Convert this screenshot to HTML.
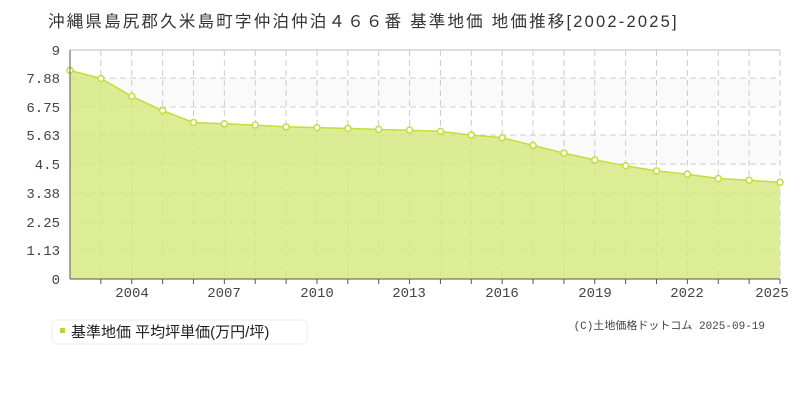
<!DOCTYPE html>
<html><head><meta charset="utf-8"><style>
body{margin:0;background:#fff;width:800px;height:400px;overflow:hidden;font-family:"Liberation Sans","Noto Sans CJK JP",sans-serif}
</style></head><body>
<svg width="800" height="400" xmlns="http://www.w3.org/2000/svg" font-family="'Liberation Mono','Noto Sans CJK JP',monospace">
<text x="48" y="27" font-size="16.5" letter-spacing="2.2" fill="#333" font-family="'Liberation Sans','Noto Sans CJK JP',sans-serif">沖縄県島尻郡久米島町字仲泊仲泊４６６番 基準地価 地価推移[2002-2025]</text>
<rect x="70" y="78" width="710" height="29" fill="#fafafa"/>
<rect x="70" y="135" width="710" height="29" fill="#fafafa"/>
<line x1="70" y1="50" x2="780" y2="50" stroke="#ddd" stroke-width="2"/>
<g stroke="#ccc" stroke-dasharray="6,4">
<line x1="70" y1="78" x2="780" y2="78"/><line x1="70" y1="107" x2="780" y2="107"/><line x1="70" y1="135" x2="780" y2="135"/><line x1="70" y1="164" x2="780" y2="164"/><line x1="70" y1="193" x2="780" y2="193"/><line x1="70" y1="222" x2="780" y2="222"/><line x1="70" y1="250" x2="780" y2="250"/>
</g>
<g stroke="#ccc" stroke-dasharray="6,4" id="vg"></g>
<polygon id="area" fill="#d4e87a" fill-opacity="0.8" stroke="none"/>
<polyline id="line" fill="none" stroke="#c3dd3b" stroke-width="1.5"/>
<g id="pts"></g>
<line x1="70" y1="50" x2="70" y2="279" stroke="#555"/>
<line x1="70" y1="279" x2="780" y2="279" stroke="#555"/>
<g id="ticks" stroke="#555"></g>
<g font-size="14" fill="#444" text-anchor="end">
<text x="60" y="55">9</text><text x="60" y="83">7.88</text><text x="60" y="112">6.75</text><text x="60" y="140">5.63</text><text x="60" y="169">4.5</text><text x="60" y="198">3.38</text><text x="60" y="227">2.25</text><text x="60" y="255">1.13</text><text x="60" y="284">0</text>
</g>
<g font-size="14" fill="#444" text-anchor="middle">
<text x="132" y="297">2004</text><text x="224" y="297">2007</text><text x="317" y="297">2010</text><text x="409" y="297">2013</text><text x="502" y="297">2016</text><text x="595" y="297">2019</text><text x="687" y="297">2022</text><text x="772" y="297">2025</text>
</g>
<rect x="52" y="320" width="255" height="24" rx="4" fill="#fff" stroke="#eee"/>
<rect x="60" y="328" width="5" height="5" fill="#b8d630"/>
<text x="71" y="337" font-size="15" fill="#222" font-family="'Liberation Sans','Noto Sans CJK JP',sans-serif">基準地価 平均坪単価(万円/坪)</text>
<text x="765" y="329" font-size="11" fill="#444" text-anchor="end">(C)土地価格ドットコム 2025-09-19</text>
</svg>
<script>
var v=[8.2,7.88,7.18,6.62,6.15,6.1,6.05,5.98,5.95,5.92,5.88,5.85,5.8,5.66,5.55,5.25,4.95,4.68,4.45,4.25,4.12,3.95,3.88,3.8];
var p=[],ns="http://www.w3.org/2000/svg";
for(var i=0;i<v.length;i++){var x=70+i*710/23,y=279-v[i]*229/9;p.push(x.toFixed(1)+","+y.toFixed(1));
var c=document.createElementNS(ns,"circle");c.setAttribute("cx",x);c.setAttribute("cy",y);c.setAttribute("r",3);c.setAttribute("fill","#fff");c.setAttribute("stroke","#c3dd3b");c.setAttribute("stroke-width","1.5");document.getElementById("pts").appendChild(c);
if(i>0){var l=document.createElementNS(ns,"line");l.setAttribute("x1",x);l.setAttribute("x2",x);l.setAttribute("y1",50);l.setAttribute("y2",279);document.getElementById("vg").appendChild(l);
var t=document.createElementNS(ns,"line");t.setAttribute("x1",x);t.setAttribute("x2",x);t.setAttribute("y1",279);t.setAttribute("y2",284);document.getElementById("ticks").appendChild(t);}}
document.getElementById("line").setAttribute("points",p.join(" "));
document.getElementById("area").setAttribute("points","70,279 "+p.join(" ")+" 780,279");
</script>
</body></html>
